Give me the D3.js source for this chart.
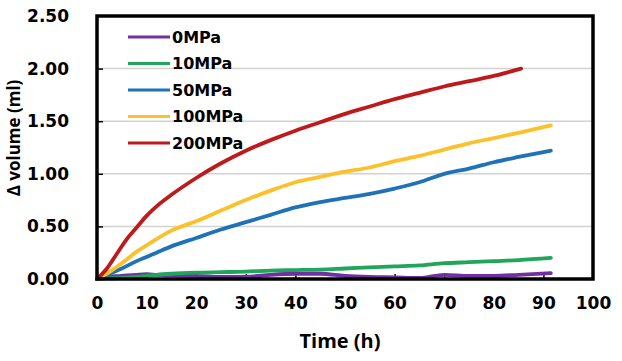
<!DOCTYPE html>
<html>
<head>
<meta charset="utf-8">
<script src="https://cdn.jsdelivr.net/npm/d3@7"></script>
<style>
  body { margin: 0; background: #fff; }
  text { font-family: "Open Sans", "Noto Sans", sans-serif; font-weight: bold; fill: #000; }
</style>
</head>
<body>
<div id="chart"></div>
<script>
// data
const seriesNames = ["0MPa", "10MPa", "50MPa", "100MPa", "200MPa"];
const seriesColors = ["#7030A0", "#1FA65A", "#1F72B8", "#FBC12B", "#BE1A1C"];

const timeLong = [0, 2, 5, 8, 10, 12, 15, 20, 25, 30, 35, 40, 45, 50, 55, 60, 65, 70, 75, 80, 85, 91.5];
const time200 = [0, 2, 4, 6, 8, 10, 12, 15, 20, 25, 30, 35, 40, 45, 50, 55, 60, 65, 70, 75, 80, 85.5];

const v0 = [0, 0.02, 0.03, 0.04, 0.045, 0.04, 0.035, 0.03, 0.02, 0.02, 0.04, 0.05, 0.05, 0.03, 0.02, 0.015, 0.01, 0.04, 0.03, 0.03, 0.04, 0.055];
const v10 = [0, 0.005, 0.01, 0.02, 0.03, 0.04, 0.05, 0.06, 0.065, 0.07, 0.08, 0.085, 0.09, 0.10, 0.11, 0.12, 0.13, 0.15, 0.16, 0.17, 0.18, 0.20];
const v50 = [0, 0.04, 0.10, 0.17, 0.21, 0.25, 0.31, 0.39, 0.47, 0.54, 0.61, 0.68, 0.73, 0.77, 0.81, 0.86, 0.92, 1.00, 1.05, 1.11, 1.16, 1.22];
const v100 = [0, 0.05, 0.15, 0.26, 0.32, 0.38, 0.46, 0.55, 0.65, 0.75, 0.84, 0.92, 0.97, 1.02, 1.06, 1.12, 1.17, 1.23, 1.29, 1.34, 1.39, 1.46];
const v200 = [0, 0.10, 0.24, 0.38, 0.49, 0.60, 0.69, 0.80, 0.96, 1.10, 1.22, 1.32, 1.41, 1.49, 1.57, 1.64, 1.71, 1.77, 1.83, 1.88, 1.93, 2.00];

const xTicks = [0, 10, 20, 30, 40, 50, 60, 70, 80, 90, 100];
const yTicks = [0, 0.5, 1.0, 1.5, 2.0, 2.5];

const seriesTimes = [timeLong, timeLong, timeLong, timeLong, time200];
const seriesValues = [v0, v10, v50, v100, v200];

const W = 622, H = 361;
const margin = { top: 16, right: 29, bottom: 82, left: 97 };
const width = W - margin.left - margin.right;
const height = H - margin.top - margin.bottom;

const svg = d3.select("#chart").append("svg")
    .attr("width", W)
    .attr("height", H)
    .append("g")
    .attr("transform", `translate(${margin.left},${margin.top})`);

const x = d3.scaleLinear().domain([0, 100]).range([0, width]);
const y = d3.scaleLinear().domain([0, 2.5]).range([height, 0]);

// grid lines
svg.append("g")
    .selectAll("line")
    .data(yTicks.slice(1, -1))
    .enter().append("line")
    .attr("x1", 0).attr("x2", width)
    .attr("y1", d => y(d)).attr("y2", d => y(d))
    .style("stroke", "#d2d2d2")
    .style("stroke-width", 1.5);

// axes
const xAxis = svg.append("g")
    .attr("transform", `translate(0,${height})`)
    .call(d3.axisBottom(x).tickValues(xTicks).tickSize(-5).tickPadding(18).tickFormat(d3.format("d")));
const yAxis = svg.append("g")
    .call(d3.axisLeft(y).tickValues(yTicks).tickSize(-6).tickPadding(28).tickFormat(d3.format(".2f")));

[xAxis, yAxis].forEach(a => {
    a.select(".domain").remove();
    a.selectAll("line").style("stroke", "#000").style("stroke-width", 1.5);
    a.selectAll("text").style("font-size", "17px").style("font-family", "'DejaVu Sans', sans-serif").style("font-weight", "bold");
});
xAxis.selectAll(".tick").filter(d => d === 0 || d === 100).select("line").remove();
yAxis.selectAll(".tick").filter(d => d === 0 || d === 2.5).select("line").remove();

// lines
const line = d3.line()
    .curve(d3.curveMonotoneX)
    .x(d => x(d[0]))
    .y(d => y(d[1]));

seriesNames.forEach((name, i) => {
    const pts = seriesTimes[i].map((t, j) => [t, seriesValues[i][j]]);
    svg.append("path")
        .datum(pts)
        .attr("d", line)
        .style("fill", "none")
        .style("stroke", seriesColors[i])
        .style("stroke-width", 3.8)
        .style("stroke-linejoin", "round")
        .style("stroke-linecap", "round");
});

// frame
svg.append("rect")
    .attr("x", 0).attr("y", 0)
    .attr("width", width).attr("height", height)
    .style("fill", "none")
    .style("stroke", "#000")
    .style("stroke-width", 3.5);

// legend
const legend = svg.selectAll(".legend")
    .data(seriesNames)
    .enter().append("g")
    .attr("class", "legend")
    .attr("transform", (d, i) => `translate(31, ${21 + i * 26.5})`);

legend.append("line")
    .attr("x1", 0).attr("x2", 42)
    .attr("y1", 0).attr("y2", 0)
    .style("stroke", (d, i) => seriesColors[i])
    .style("stroke-width", 3);

legend.append("text")
    .attr("x", 44)
    .attr("y", 0)
    .attr("dy", "0.36em")
    .style("font-family", "'DejaVu Sans', sans-serif")
    .style("font-size", "16px")
    .text(d => d);

// axis titles
svg.append("text")
    .attr("x", 243)
    .attr("y", height + 69)
    .attr("text-anchor", "middle")
    .style("font-size", "20px")
    .text("Time (h)");

svg.append("text")
    .attr("transform", "rotate(-90)")
    .attr("x", -122)
    .attr("y", -margin.left + 20)
    .attr("text-anchor", "middle")
    .style("font-size", "17px")
    .text("Δ volume (ml)");
</script>
</body>
</html>
